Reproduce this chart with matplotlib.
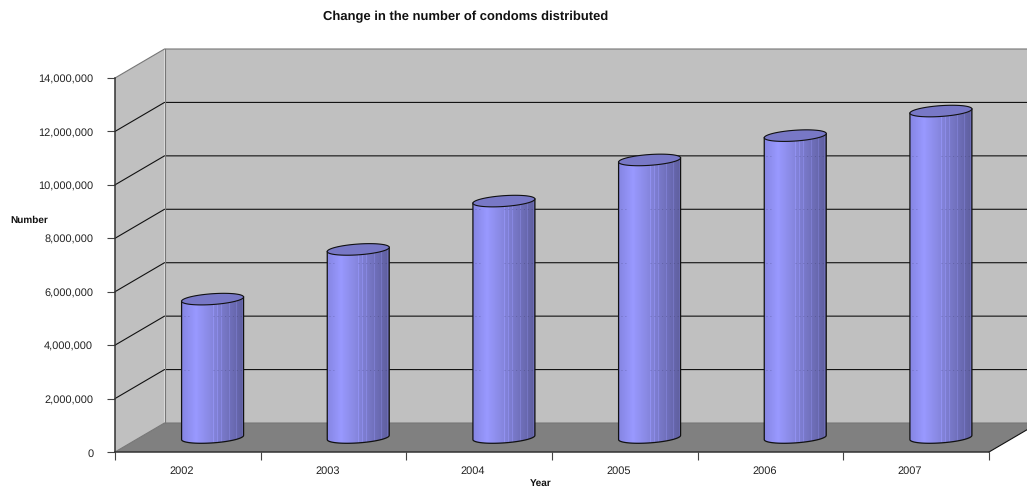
import numpy as np
import matplotlib
matplotlib.use("Agg")
import matplotlib.pyplot as plt
from matplotlib.patches import Polygon, PathPatch
from matplotlib.path import Path
from matplotlib.colors import LinearSegmentedColormap
from matplotlib.transforms import ScaledTranslation
from matplotlib.ticker import FuncFormatter

plt.rcParams["font.family"] = ["Liberation Sans", "DejaVu Sans"]
plt.rcParams["text.hinting"] = "no_hinting"
plt.rcParams["text.hinting_factor"] = 1

years = ["2002", "2003", "2004", "2005", "2006", "2007"]
condoms = [5180000, 7040000, 8850000, 10390000, 11300000, 12220000]
y_ticks = list(range(0, 14000001, 2000000))
title = "Change in the number of condoms distributed"

W, H = 1027, 487
fig = plt.figure(figsize=(W / 100, H / 100), dpi=100)
ax = fig.add_axes([115 / W, (H - 452) / H, 874 / W, 374 / H])
ax.set_xlim(0, 6)
ax.set_ylim(0, 14000000)
ax.patch.set_visible(False)

# data units per pixel, for the oblique 3D depth
px_x = 6 / 874
px_y = 14000000 / 374
depth_x = 49.5 * px_x
depth_y = 29 * px_y
y_top = 14000000

# walls and floor
ax.add_patch(Polygon([(depth_x, depth_y), (6 + depth_x, depth_y), (6 + depth_x, y_top + depth_y),
                      (depth_x, y_top + depth_y)], fc="#c0c0c0", ec="none", clip_on=False, zorder=1))
ax.add_patch(Polygon([(0, 0), (depth_x, depth_y), (depth_x, y_top + depth_y), (0, y_top)],
                     fc="#c0c0c0", ec="none", clip_on=False, zorder=1))
ax.add_patch(Polygon([(0, 0), (6, 0), (6 + depth_x, depth_y), (depth_x, depth_y)],
                     fc="#808080", ec="none", clip_on=False, zorder=1))

# gridlines run along the left wall and the back wall
for v in y_ticks:
    col = "#777777" if v in (0, 14000000) else "#111111"
    ax.plot([0, depth_x, 6 + depth_x], [v, v + depth_y, v + depth_y], color=col, lw=0.8,
            clip_on=False, zorder=2, solid_joinstyle="miter")
ax.plot([depth_x, depth_x], [depth_y, y_top + depth_y], color="#777777", lw=0.8, clip_on=False, zorder=2)
ax.plot([6, 6 + depth_x], [0, depth_y], color="#111111", lw=0.8, clip_on=False, zorder=2)

# shading across a cylinder, pale strips toward the dark side
stops = [(0, "#8686e4"), (0.22, "#9999ff"), (0.5, "#8585dc"), (0.8, "#6e6eb8"), (1, "#5f5f9f")]
cmap = LinearSegmentedColormap.from_list("cyl", stops)
shade = np.linspace(0, 1, 62)
for s in (31, 35, 39, 47, 54, 60):
    shade[s] = max(shade[s] - 0.18, 0)
shade = shade.reshape(1, -1)

half_w = 31 * px_x
half_h = 5.4 * px_y
slant = 2.1 * px_y


def rim(cx, cy, t):
    return cx + half_w * np.cos(t), cy + half_h * np.sin(t) + slant * np.cos(t)


for i, val in enumerate(condoms):
    cx = i + 0.5 + depth_x / 2
    base = depth_y / 2
    top = base + val

    # body outline: lower rim then up the right side and along the back of the top rim
    t_low = np.linspace(np.pi, 2 * np.pi, 40)
    t_up = np.linspace(0, np.pi, 40)
    bx, by = rim(cx, base, t_low)
    tx, ty = rim(cx, top, t_up)
    body = Path(np.column_stack([np.r_[bx, tx], np.r_[by, ty]]))

    im = ax.imshow(shade, cmap=cmap, vmin=0, vmax=1, aspect="auto", interpolation="nearest",
                   extent=[cx - half_w, cx + half_w, base - 10 * px_y, top + 10 * px_y], zorder=3)
    outline = PathPatch(body, fc="none", ec="none", transform=ax.transData, clip_on=False)
    ax.add_patch(outline)
    im.set_clip_path(outline)

    # the back gridlines show faintly through the cylinder
    for v in y_ticks:
        if depth_y < v + depth_y < top - half_h:
            for x0, x1 in ((cx - half_w + 2 * px_x, cx - half_w + 9 * px_x), (cx, cx + half_w - 2 * px_x)):
                ax.plot([x0, x1], [v + depth_y, v + depth_y], color="#30305a", lw=0.7, alpha=0.3,
                        ls=(0, (1, 3)), zorder=3.5, clip_on=False)

    ax.plot(np.r_[tx[-1], bx, tx[0]], np.r_[ty[-1], by, ty[0]], color="#111111", lw=0.9, zorder=4, clip_on=False)

    t_all = np.linspace(0, 2 * np.pi, 80)
    ex, ey = rim(cx, top, t_all)
    ax.add_patch(Polygon(np.column_stack([ex, ey]), closed=True, fc="#7878c6", ec="#111111", lw=0.8,
                         clip_on=False, zorder=5))

ax.set_xlim(0, 6)
ax.set_ylim(0, 14000000)

for name in ("top", "right"):
    ax.spines[name].set_visible(False)
for name in ("left", "bottom"):
    ax.spines[name].set_color("#333333")
    ax.spines[name].set_linewidth(1.1)
    ax.spines[name].set_zorder(6)

ax.set_yticks(y_ticks)
ax.yaxis.set_major_formatter(FuncFormatter(lambda v, _: f"{int(v):,}"))
ax.tick_params(axis="y", length=6, width=0.8, color="#444444", labelsize=7.6, pad=9.7, labelcolor="#222222")
y_shift = ScaledTranslation(0, -0.8 / 100, fig.dpi_scale_trans)
for lab in ax.get_yticklabels():
    lab.set_transform(lab.get_transform() + y_shift)

ax.set_xticks(range(7))
ax.set_xticklabels([])
ax.set_xticks([i + 0.5 for i in range(6)], minor=True)
ax.set_xticklabels(years, minor=True)
ax.tick_params(axis="x", which="major", length=6, width=0.8, color="#444444")
ax.tick_params(axis="x", which="minor", length=0, labelsize=7.6, pad=10, labelcolor="#222222")
shift = ScaledTranslation(-6 / 100, 0, fig.dpi_scale_trans)
for lab in ax.get_xticklabels(minor=True):
    lab.set_transform(lab.get_transform() + shift)

fig.text(466 / W, 1 - 16.5 / H, title, ha="center", va="center", fontsize=9.6, fontweight="bold", color="#111111")
fig.text(29 / W, 1 - 220 / H, "Number", ha="center", va="center", fontsize=7.3, fontweight="bold", color="#111111")
fig.text(540.5 / W, 1 - 483 / H, "Year", ha="center", va="center", fontsize=7, fontweight="bold", color="#111111")

fig.savefig("out.png", dpi=100, facecolor="white")
